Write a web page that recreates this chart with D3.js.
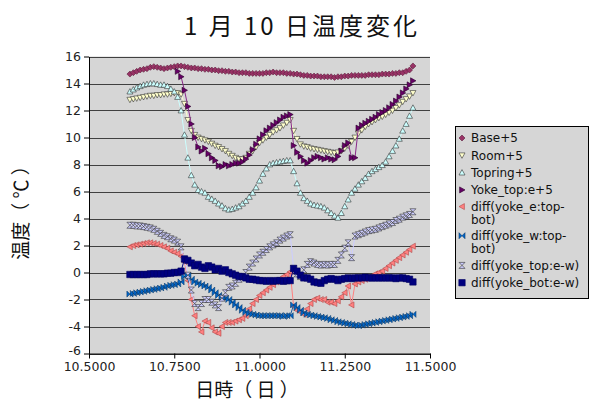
<!DOCTYPE html>
<html><head><meta charset="utf-8">
<script src="https://cdn.jsdelivr.net/npm/d3@7"></script>
<style>body{margin:0;background:#fff} svg{display:block}</style>
</head><body>
<svg id="c" width="591" height="406"></svg>
<script>
const times = [10.62,10.63,10.64,10.65,10.66,10.67,10.68,10.69,10.70,10.71,
10.72,10.73,10.74,10.75,10.76,10.77,10.78,10.79,10.80,10.81,
10.82,10.83,10.84,10.85,10.86,10.87,10.88,10.89,10.90,10.91,
10.92,10.93,10.94,10.95,10.96,10.97,10.98,10.99,11.00,11.01,
11.02,11.03,11.04,11.05,11.06,11.07,11.08,11.09,11.10,11.11,
11.12,11.13,11.14,11.15,11.16,11.17,11.18,11.19,11.20,11.21,
11.22,11.23,11.24,11.25,11.26,11.27,11.28,11.29,11.30,11.31,
11.32,11.33,11.34,11.35,11.36,11.37,11.38,11.39,11.40,11.41,
11.42,11.43,11.44,11.45];

const base = [14.7,14.8,14.9,15.0,15.05,15.1,15.2,15.25,15.2,15.15,
15.1,15.15,15.2,15.25,15.3,15.3,15.25,15.2,15.15,15.15,
15.1,15.1,15.05,15.05,15.0,15.0,14.95,14.95,14.9,14.9,
14.85,14.85,14.8,14.8,14.8,14.75,14.75,14.75,14.75,14.75,
14.8,14.8,14.85,14.8,14.8,14.8,14.75,14.75,14.7,14.7,
14.65,14.6,14.6,14.55,14.55,14.55,14.5,14.5,14.5,14.5,
14.45,14.5,14.5,14.55,14.55,14.6,14.6,14.6,14.6,14.6,
14.65,14.65,14.65,14.65,14.7,14.7,14.7,14.75,14.75,14.8,
14.8,14.9,15.0,15.3];

const room = [12.8,12.85,12.9,12.95,13.0,13.05,13.1,13.1,13.15,13.15,
13.2,13.2,13.25,13.3,13.3,13.2,12.5,11.3,10.5,10.2,
10.0,9.9,9.8,9.7,9.55,9.4,9.3,9.15,9.0,8.8,
8.65,8.5,8.4,8.4,8.5,8.8,9.0,9.3,9.6,9.8,
10.0,10.2,10.4,10.55,10.7,10.9,11.1,11.3,10.5,9.9,
9.5,9.35,9.3,9.2,9.15,9.1,9.05,9.0,8.95,8.9,
8.85,8.9,9.0,9.2,9.4,9.7,10.0,10.3,10.55,10.8,
11.0,11.15,11.3,11.45,11.55,11.7,11.85,12.0,12.2,12.4,
12.65,12.85,13.05,13.3];

const topring = [13.4,13.55,13.7,13.8,13.9,13.95,14.0,14.0,13.95,13.9,
13.9,13.8,13.6,13.4,13.0,12.0,10.2,8.5,7.2,6.5,
6.1,6.0,5.9,5.6,5.45,5.3,5.1,4.95,4.75,4.65,
4.7,4.8,4.9,5.1,5.3,5.6,5.9,6.3,6.8,7.3,
7.7,8.0,8.1,8.15,8.2,8.25,8.3,8.3,7.5,6.6,
5.9,5.5,5.3,5.1,5.0,4.95,4.9,4.8,4.6,4.4,
4.2,4.05,4.4,4.9,5.4,5.9,6.2,6.5,6.75,7.0,
7.3,7.5,7.65,7.8,7.95,8.2,8.6,9.0,9.4,9.9,
10.5,11.0,11.6,12.2];

const yokeTopE = [null,null,null,null,null,null,null,null,null,null,
null,null,null,null,14.9,14.5,13.5,12.3,11.0,10.0,
9.3,9.0,9.2,8.8,8.5,8.3,7.9,7.85,8.0,7.9,
8.0,8.1,8.1,8.2,8.4,8.7,9.1,9.5,9.9,10.2,
10.5,10.7,10.9,11.1,11.3,11.5,11.6,11.7,9.4,8.9,
8.6,8.3,8.1,8.3,8.5,8.6,8.5,8.4,8.5,8.4,
8.35,8.6,9.0,9.4,9.6,8.5,8.5,10.7,10.9,11.05,
11.2,11.35,11.5,11.7,11.85,12.0,12.2,12.45,12.7,13.0,
13.3,13.6,13.9,14.2];

const diffE = [1.9,2.0,2.05,2.1,2.15,2.2,2.2,2.15,2.1,2.0,
1.9,1.8,1.6,1.5,1.4,1.2,0.8,-0.6,-2.0,-3.2,
-4.0,-4.4,-3.6,-3.7,-4.1,-4.4,-4.5,-4.0,-3.7,-3.7,
-3.7,-3.6,-3.5,-3.4,-3.2,-2.7,-2.3,-2.0,-1.7,-1.5,
-1.3,-1.1,-0.9,-0.7,-0.5,-0.3,-0.15,0.05,-2.5,-2.8,
-2.9,-3.1,-2.7,-2.3,-2.0,-1.9,-2.0,-2.0,-2.2,-2.2,
-2.3,-2.1,-1.8,-1.5,-1.0,-2.4,-0.85,-0.7,-0.6,-0.5,
-0.35,-0.25,-0.1,0.0,0.1,0.3,0.5,0.7,0.9,1.1,
1.3,1.5,1.7,1.95];

const diffW = [-1.6,-1.55,-1.5,-1.45,-1.4,-1.35,-1.3,-1.25,-1.2,-1.15,
-1.1,-1.0,-0.95,-0.9,-0.85,-0.7,-0.3,-0.2,-0.5,-0.7,
-0.8,-0.9,-1.0,-1.1,-1.3,-1.5,-1.7,-1.8,-1.9,-2.0,
-2.2,-2.4,-2.6,-2.8,-2.95,-3.05,-3.1,-3.15,-3.2,-3.2,
-3.2,-3.2,-3.2,-3.2,-3.2,-3.25,-3.2,-3.2,-2.4,-2.6,
-2.8,-3.0,-3.1,-3.15,-3.2,-3.25,-3.3,-3.35,-3.4,-3.5,
-3.55,-3.65,-3.7,-3.75,-3.8,-3.85,-3.9,-3.95,-3.9,-3.85,
-3.8,-3.75,-3.7,-3.65,-3.6,-3.55,-3.5,-3.45,-3.4,-3.35,
-3.3,-3.25,-3.2,-3.1];

const diffTop = [3.5,3.5,3.45,3.45,3.4,3.35,3.3,3.2,3.05,2.9,
2.75,2.65,2.5,2.4,2.25,1.9,1.0,-0.2,-1.3,-2.3,
-2.6,-2.3,-2.0,-2.0,-2.2,-2.4,-2.6,-1.9,-1.5,-1.1,
-1.0,-0.8,-0.5,-0.3,0.0,0.4,0.7,1.0,1.3,1.5,
1.7,1.9,2.05,2.2,2.4,2.55,2.7,2.8,0.3,-0.1,
-0.3,0.2,0.6,0.8,0.7,0.6,0.55,0.6,0.55,0.6,
0.6,0.9,1.3,1.8,2.2,1.1,2.7,2.8,2.9,3.0,
3.1,3.15,3.2,3.3,3.4,3.5,3.6,3.7,3.85,3.95,
4.1,4.2,4.3,4.5];

const diffBot = [-0.15,-0.15,-0.15,-0.15,-0.15,-0.15,-0.1,-0.1,-0.1,-0.1,
-0.1,-0.05,-0.05,0.0,0.0,0.1,1.0,0.9,0.7,0.5,
0.6,0.4,0.3,0.5,0.4,0.2,0.3,0.1,0.2,0.0,
-0.1,-0.2,-0.3,-0.3,-0.4,-0.5,-0.5,-0.55,-0.6,-0.6,
-0.65,-0.6,-0.65,-0.6,-0.6,-0.65,-0.6,-0.6,0.3,0.1,
-0.2,-0.4,-0.4,-0.5,-0.7,-0.75,-0.8,-0.6,-0.5,-0.45,
-0.5,-0.6,-0.5,-0.45,-0.4,-0.45,-0.4,-0.4,-0.4,-0.35,
-0.4,-0.4,-0.4,-0.4,-0.4,-0.4,-0.4,-0.4,-0.45,-0.4,
-0.4,-0.45,-0.5,-0.7];

const seriesNames = ["Base+5","Room+5","Topring+5","Yoke_top:e+5","diff(yoke_e:top-bot)","diff(yoke_w:top-bot)","diff(yoke_top:e-w)","diff(yoke_bot:e-w)"];
const seriesValues = [base, room, topring, yokeTopE, diffE, diffW, diffTop, diffBot];
const yTicks = [16,14,12,10,8,6,4,2,0,-2,-4,-6];
const xTicks = [10.5,10.75,11.0,11.25,11.5];
const titleText = "1 月 10 日温度変化";
const xLabel = "日時（ 日 ）";
const yLabel = "温度（ ℃ ）";

// styles
const styles = [
  {shape:"diamond", fill:"#993366", stroke:"#5a1e3c", line:"#993366", s:3},
  {shape:"triDown", fill:"#FFFFCC", stroke:"#333", line:"#FFFFCC", s:3},
  {shape:"triUp", fill:"#CCFFFF", stroke:"#333", line:"#CCFFFF", s:3},
  {shape:"triRight", fill:"#660066", stroke:"#2a002a", line:"#8a2a8a", s:3},
  {shape:"triLeft", fill:"#FF8080", stroke:"#b04848", line:"#FF8080", s:3},
  {shape:"bowtie", fill:"#0066CC", stroke:"#0a3a6a", line:"#1a5aa0", s:3},
  {shape:"hourglass", fill:"#CCCCFF", stroke:"#333", line:"#CCCCFF", s:3},
  {shape:"square", fill:"#000080", stroke:"#000060", line:"#000080", s:3.2}
];

function markerPath(shape, s){
  switch(shape){
    case "diamond": return `M0,${-s}L${s},0L0,${s}L${-s},0Z`;
    case "triDown": return `M${-s},${-s*0.8}L${s},${-s*0.8}L0,${s}Z`;
    case "triUp": return `M0,${-s}L${s},${s*0.8}L${-s},${s*0.8}Z`;
    case "triRight": return `M${-s*0.8},${-s}L${s},0L${-s*0.8},${s}Z`;
    case "triLeft": return `M${s*0.8},${-s}L${-s},0L${s*0.8},${s}Z`;
    case "bowtie": return `M${-s},${-s}L${-s},${s}L${s},${-s}L${s},${s}Z`;
    case "hourglass": return `M${-s},${-s}L${s},${-s}L${-s},${s}L${s},${s}Z`;
    case "square": return `M${-s},${-s}H${s}V${s}H${-s}Z`;
  }
}

const svg = d3.select("#c");
const L = 89, R = 430, T = 56.5, B = 353.5;
const x = d3.scaleLinear().domain([10.5, 11.5]).range([L, R]);
const y = d3.scaleLinear().domain([-6, 16]).range([B, T]);

svg.append("rect").attr("x",L).attr("y",T).attr("width",R-L).attr("height",B-T).attr("fill","#d6d6d6");

// gridlines
svg.append("g").selectAll("line").data(yTicks).join("line")
  .attr("x1",L).attr("x2",R).attr("y1",d=>Math.round(y(d))+0.5).attr("y2",d=>Math.round(y(d))+0.5)
  .attr("stroke","#404040").attr("stroke-width",1);

// series
const plot = svg.append("g");
seriesValues.forEach((vals, k) => {
  const st = styles[k];
  const pts = times.map((t,i)=>({t, v: vals[i]})).filter(d => d.v !== null);
  const line = d3.line().x(d=>x(d.t)).y(d=>y(d.v));
  plot.append("path").datum(pts).attr("d", line).attr("fill","none")
    .attr("stroke", st.line).attr("stroke-width",1);
  plot.append("g").selectAll("path").data(pts).join("path")
    .attr("transform", d=>`translate(${x(d.t)},${y(d.v)})`)
    .attr("d", markerPath(st.shape, st.s))
    .attr("fill", st.fill).attr("stroke", st.stroke).attr("stroke-width",0.6);
});

// axes
const fontTick = "'DejaVu Sans', Verdana, sans-serif";
const yAxis = svg.append("g").attr("transform",`translate(${L},0)`)
  .call(d3.axisLeft(y).tickValues(yTicks).tickSize(5).tickSizeOuter(0).tickPadding(3).tickFormat(d=>String(d)));
const xAxis = svg.append("g").attr("transform",`translate(0,${B})`)
  .call(d3.axisBottom(x).tickValues(xTicks).tickSize(5).tickSizeOuter(0).tickPadding(4).tickFormat(d=>d.toFixed(4)));
[yAxis, xAxis].forEach(a => {
  a.selectAll("text").attr("font-family", fontTick).attr("font-size", 12.5).attr("fill","#222");
  a.selectAll("line,path").attr("stroke","#000");
});
// nudge the lowest y label up a touch so it clears the first x label
yAxis.selectAll(".tick").filter(d => d === -6).select("text").attr("dy","0.1em");

// title
svg.append("text").attr("x",302).attr("y",35).attr("text-anchor","middle")
  .attr("font-family","'Noto Sans CJK JP', sans-serif").attr("font-size",24)
  .attr("letter-spacing",3).attr("fill","#111").text(titleText);

// axis labels
svg.append("text").attr("x",247).attr("y",397).attr("text-anchor","middle")
  .attr("font-family","'Noto Sans CJK JP', sans-serif").attr("font-size",19)
  .attr("fill","#111").text(xLabel);
svg.append("text").attr("transform","translate(28,208) rotate(-90)").attr("text-anchor","middle")
  .attr("font-family","'Noto Sans CJK JP', sans-serif").attr("font-size",19)
  .attr("fill","#111").text(yLabel);

// legend
const lg = svg.append("g");
lg.append("rect").attr("x",455.5).attr("y",126.5).attr("width",133).attr("height",172)
  .attr("fill","#d6d6d6").attr("stroke","#000").attr("stroke-width",1);
let cy = 138;
const wrapGap = 12.6;
seriesNames.forEach((name, k) => {
  const st = styles[k];
  const lines = name.includes(":top-bot") ? [name.slice(0, name.indexOf("top-")+4), name.slice(name.indexOf("top-")+4)] : [name];
  const top = lines.length > 1 ? cy - 0.6 : cy;
  lg.append("path").attr("transform",`translate(462,${top})`).attr("d", markerPath(st.shape, st.s))
    .attr("fill", st.fill).attr("stroke", st.stroke).attr("stroke-width",0.6);
  lines.forEach((ln, j) => {
    lg.append("text").attr("x",471).attr("y", top + j*wrapGap).attr("dy","0.36em")
      .attr("font-family",fontTick).attr("font-size",12).attr("fill","#111").text(ln);
  });
  cy += 17.3 + (lines.length-1)*11.8;
});
</script>
</body></html>
